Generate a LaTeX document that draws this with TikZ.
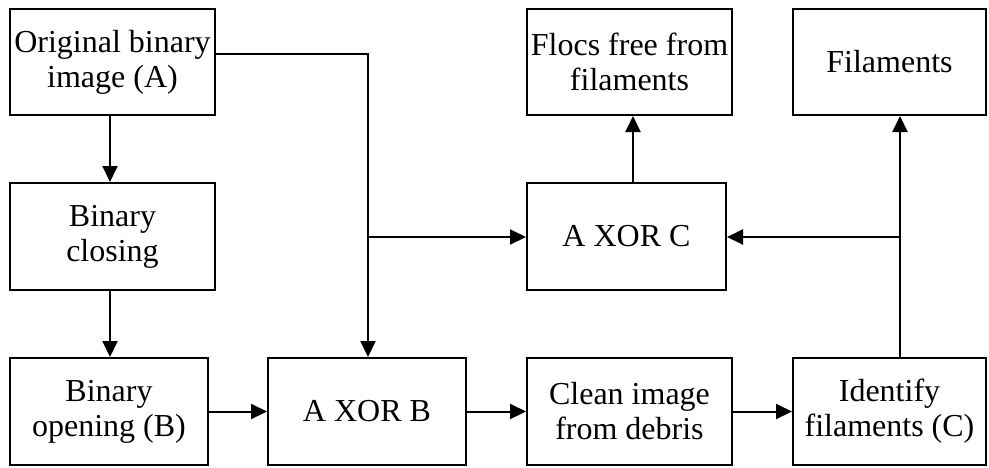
\documentclass[tikz,border=0pt]{standalone}
\usepackage{fontspec}
\setmainfont{Liberation Serif}
\usetikzlibrary{arrows.meta}
\begin{document}
\begin{tikzpicture}[x=1pt,y=-1pt,
  box/.style={draw,line width=2pt,inner sep=0pt,align=center,
    font=\fontsize{32}{35}\selectfont},
  arr/.style={line width=2pt,-{Triangle[length=16pt,width=15pt]}}]
\useasboundingbox (0,0) rectangle (989,467);

% processing boxes
\node[box,minimum width=205pt,minimum height=106pt] (A) at (112.5,62) {Original binary\\image (A)};
\node[box,minimum width=205pt,minimum height=107pt] (close) at (112.5,236.5) {Binary\\closing};
\node[box,minimum width=198pt,minimum height=107pt] (open) at (109,411.5) {Binary\\opening (B)};
\node[box,minimum width=198pt,minimum height=107pt] (xorB) at (367,411.5) {A XOR B};
\node[box,minimum width=205pt,minimum height=107pt] (clean) at (629.5,411.5) {Clean image\\from debris};
\node[box,minimum width=193pt,minimum height=107pt] (ident) at (889.5,411.5) {Identify\\filaments (C)};
\node[box,minimum width=199pt,minimum height=107pt] (xorC) at (626.5,236.5) {A XOR C};
\node[box,minimum width=205pt,minimum height=106pt] (flocs) at (629.5,62) {Flocs free from\\filaments};
\node[box,minimum width=193pt,minimum height=106pt] (fil) at (889.5,62) {Filaments};

% routing points
\coordinate (xl) at (110,0);
\coordinate (xa) at (633,0);
\coordinate (xf) at (900,0);
\coordinate (c1) at (368,54);
\coordinate (j1) at (368,237);
\coordinate (j2) at (900,237);

% connectors
\draw[arr] (A.south -| xl) -- (close.north -| xl);
\draw[arr] (close.south -| xl) -- (open.north -| xl);
\draw[arr] (open.east) -- (xorB.west);
\draw[arr] (xorB.east) -- (clean.west);
\draw[arr] (clean.east) -- (ident.west);
\draw[arr] (A.east |- c1) -- (c1) -- (xorB.north -| c1);
\draw[arr] (j1) -- (xorC.west |- j1);
\draw[arr] (ident.north -| xf) -- (fil.south -| xf);
\draw[arr] (j2) -- (xorC.east |- j2);
\draw[arr] (xorC.north -| xa) -- (flocs.south -| xa);
\end{tikzpicture}
\end{document}
